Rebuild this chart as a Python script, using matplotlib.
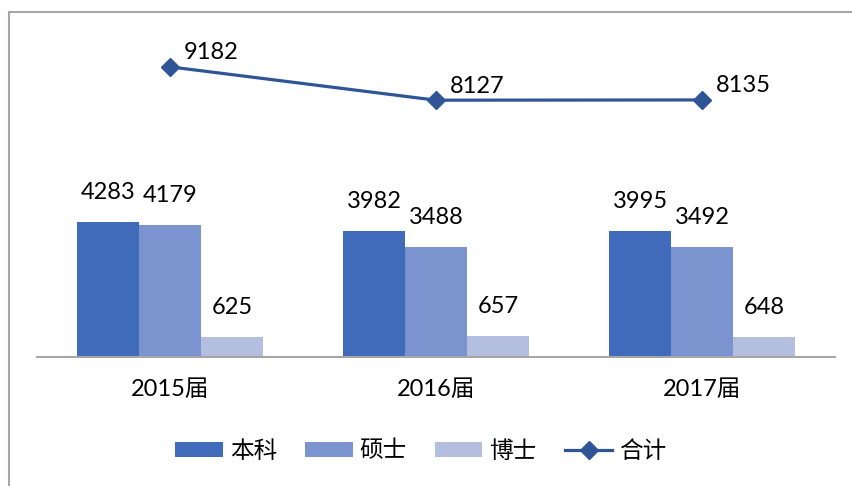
import matplotlib
matplotlib.use("Agg")
import matplotlib.pyplot as plt
from matplotlib.lines import Line2D
import numpy as np

plt.rcParams['font.family'] = ['Lato', 'Noto Sans CJK SC', 'DejaVu Sans']

categories = ["2015届", "2016届", "2017届"]
benke = [4283, 3982, 3995]
shuoshi = [4179, 3488, 3492]
boshi = [625, 657, 648]
heji = [9182, 8127, 8135]
series_names = ["本科", "硕士", "博士", "合计"]

c_benke = "#3F6BBA"
c_shuoshi = "#7B94D0"
c_boshi = "#B4BFE0"
c_line = "#2F5597"

W, H = 852, 486
fig = plt.figure(figsize=(W / 100, H / 100), dpi=100)
ax = fig.add_axes([37 / W, 129 / H, 798 / W, 316 / H])

x = np.arange(len(categories))
w = 0.233
b1 = ax.bar(x - w, benke, w, color=c_benke, label=series_names[0])
b2 = ax.bar(x, shuoshi, w, color=c_shuoshi, label=series_names[1])
b3 = ax.bar(x + w, boshi, w, color=c_boshi, label=series_names[2])
ln, = ax.plot(x, heji, color=c_line, lw=2.3, marker="D", ms=9,
              label=series_names[3])

fs = 17
for bars in (b1, b2, b3):
    for r in bars:
        ax.annotate(f"{int(r.get_height())}",
                    (r.get_x() + r.get_width() / 2, r.get_height()),
                    xytext=(0, 19), textcoords="offset pixels",
                    ha="center", va="bottom", fontsize=fs, color="black")
for xi, v in zip(x, heji):
    ax.annotate(f"{v}", (xi, v), xytext=(14, 14), textcoords="offset pixels",
                ha="left", va="center", fontsize=fs, color="black")

ax.set_xlim(-0.5, 2.5)
ax.set_ylim(0, 10000)
ax.set_yticks([])
ax.set_xticks(x)
ax.set_xticklabels(categories, fontsize=fs)
ax.tick_params(axis="x", length=0, pad=16)
for s in ("top", "right", "left"):
    ax.spines[s].set_visible(False)
ax.spines["bottom"].set_color("#A6A6A6")
ax.spines["bottom"].set_linewidth(1.5)

# outer frame (top and left only)
fig.add_artist(Line2D([8.5 / W, 8.5 / W], [0, 1 - 12.5 / H], color="#A6A6A6", lw=1.5))
fig.add_artist(Line2D([8.5 / W, 1], [1 - 12.5 / H, 1 - 12.5 / H], color="#A6A6A6", lw=1.5))

fig.legend(handles=[b1, b2, b3, ln], labels=series_names, ncol=4,
           loc="center", bbox_to_anchor=(421 / W, 1 - 451 / H),
           frameon=False, handlelength=2.0, handleheight=0.6,
           handletextpad=0.3, columnspacing=1.2,
           prop={'family': ['Noto Sans CJK SC'], 'size': 17})

fig.savefig("out.png", dpi=100)
